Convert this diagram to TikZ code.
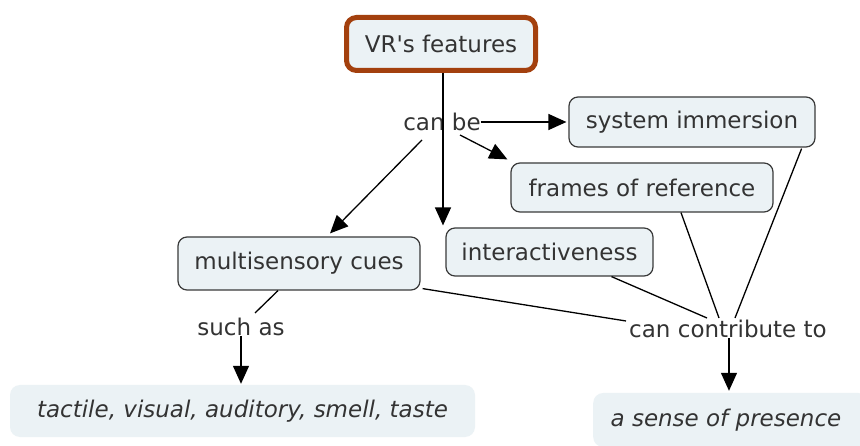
\documentclass[tikz,border=0pt]{standalone}
\usepackage{fontspec}
\setmainfont{DejaVu Sans}[Ligatures=TeXOff]
\usetikzlibrary{arrows.meta,calc}
\definecolor{boxfill}{HTML}{EBF2F5}
\definecolor{boxline}{HTML}{3A3A3A}
\definecolor{rootline}{HTML}{A3400E}
\definecolor{ink}{HTML}{333333}
\tikzset{
  concept/.style={draw=boxline, fill=boxfill, line width=1.2pt, rounded corners=9pt,
    inner sep=0pt, text=ink, font=\fontsize{23}{27}\selectfont},
  rootbox/.style={concept, draw=rootline, line width=5pt, rounded corners=10pt},
  leaf/.style={fill=boxfill, rounded corners=10pt, inner sep=0pt, text=ink,
    font=\fontsize{23}{27}\selectfont\itshape},
  phrase/.style={inner sep=0pt, text=ink, font=\fontsize{23}{27}\selectfont},
  link/.style={draw=black, line width=1.3pt},
  arrowlink/.style={link, -{Triangle[length=18pt,width=16pt]}}
}
\begin{document}
\begin{tikzpicture}[x=1pt,y=-1pt]
\useasboundingbox (0,0) rectangle (860,446);
\fill[white] (0,0) rectangle (860,446);

% concepts
\node[rootbox, minimum width=189pt, minimum height=53pt] (vr) at (441,44) {VR's features};
\node[concept, minimum width=246pt, minimum height=50pt] (sys) at (692,122) {system immersion};
\node[concept, minimum width=262pt, minimum height=49pt] (frames) at (642,187.5) {frames of reference};
\node[concept, minimum width=207pt, minimum height=48pt] (inter) at (549.5,252) {interactiveness};
\node[concept, minimum width=242pt, minimum height=53pt] (multi) at (299,263.5) {multisensory cues};
\node[leaf, minimum width=465pt, minimum height=52pt] (tactile) at (242.5,411) {tactile, visual, auditory, smell, taste};
\node[leaf, minimum width=275pt, minimum height=54pt, anchor=west] (presence) at (593,420) {};
\node[phrase, font=\fontsize{23}{27}\selectfont\itshape] (presencetext) at (726,420) {a sense of presence};

% linking phrases
\node[phrase] (cb) at (442,122) {can be};
\node[phrase] (such) at (241,327) {such as};
\node[phrase] (contrib) at (728,329) {can contribute to};

% connectors from the root through "can be"
\draw[arrowlink] ([xshift=2pt]vr.south) -- ([xshift=2pt,yshift=2pt]vr.south |- inter.north);
\draw[arrowlink] (cb.east) -- ([xshift=-2pt]sys.west);
\draw[arrowlink] ([xshift=18pt,yshift=-13pt]cb.center) -- ([xshift=-3pt,yshift=3pt]frames.north west);
\draw[arrowlink] ([xshift=-20pt,yshift=-18pt]cb.center) -- ([xshift=31pt,yshift=3pt]multi.north);

% multisensory cues -> such as -> examples
\draw[link] ([xshift=-21pt]multi.south) -- ([xshift=14pt,yshift=14pt]such.center);
\draw[arrowlink] (such.south) -- ([yshift=1pt]such.south |- tactile.north);

% contributions to presence
\draw[link] ([xshift=2pt,yshift=2pt]multi.south east) -- ([xshift=-3pt,yshift=8pt]contrib.west);
\draw[link] ([xshift=62pt]inter.south) -- ([xshift=-21pt,yshift=11pt]contrib.center);
\draw[link] ([xshift=39pt]frames.south) -- ([xshift=-9pt,yshift=11pt]contrib.center);
\draw[link] ([xshift=-14pt,yshift=-1pt]sys.south east) -- ([xshift=7pt,yshift=11pt]contrib.center);
\draw[arrowlink] ([xshift=1pt]contrib.south) -- ([xshift=1pt,yshift=2pt]contrib.south |- presence.north);
\end{tikzpicture}
\end{document}
